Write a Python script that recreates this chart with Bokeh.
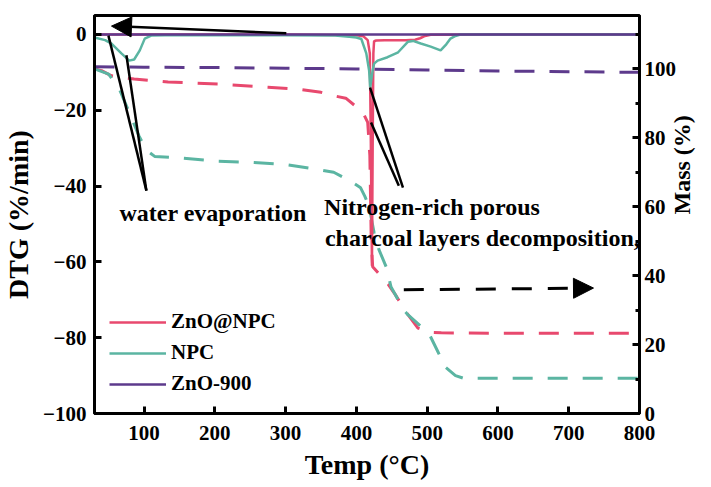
import math
from bokeh.plotting import figure
from bokeh.models import (Range1d, LinearAxis, SingleIntervalTicker, Label, Arrow,
                          NormalHead, Legend, LegendItem)
from bokeh.embed import file_html
from bokeh.resources import INLINE

FONT = "Liberation Serif"

# ---------------- data ----------------
# DTG (left axis, solid lines)
znonpc_dtg_t = [30, 100, 200, 300, 400, 410, 416, 419, 420.5, 422, 423, 424, 425, 428,
                440, 455, 470, 483, 490, 497, 505, 600, 700, 800]
znonpc_dtg = [0, 0, 0, 0, -0.2, -0.5, -1.5, -5, -30, -61, -30, -5, -1.8, -1.6,
              -1.5, -1.5, -1.5, -1.4, -1.0, -0.4, -0.1, 0, 0, 0]

npc_dtg_t = [30, 45, 54, 68, 79, 86, 94, 101, 110, 130, 200, 300, 370, 390, 400, 407,
             414, 418, 419.5, 423, 425, 430, 444, 459, 473, 480, 491, 505, 519, 527,
             533, 540, 547, 600, 700, 800]
npc_dtg = [-0.8, -1.5, -2.4, -5.0, -6.9, -6.6, -4.2, -1.1, -0.3, -0.2, -0.2, -0.2, -0.3,
           -0.6, -0.8, -1.2, -5.0, -9.5, -14, -9.5, -7.7, -6.9, -6.0, -4.7, -1.9, -1.7,
           -2.4, -3.2, -4.2, -2.6, -1.1, -0.4, 0, 0, 0, 0]

zno_dtg_t = [30, 200, 400, 600, 800]
zno_dtg = [0, 0, 0, 0, 0]

# Mass (right axis, dashed lines)
znonpc_mass_t = [30, 40, 54, 70, 86, 134, 205, 275, 322, 350, 368, 385, 397, 402, 410,
                 416, 419, 421, 423, 437, 445, 455, 470, 487, 505, 520, 600, 700, 800]
znonpc_mass = [100, 99.5, 98, 97.5, 97.1, 96.2, 95.6, 94.7, 94.0, 93.2, 92.2, 91.5, 89.5,
               88.8, 87, 84.5, 75, 50, 42.6, 39.4, 37.5, 34.5, 29.5, 24.8, 23.5, 23.4,
               23.3, 23.3, 23.3]

npc_mass_t = [30, 50, 65, 79, 93, 103, 115, 143, 205, 251, 298, 346, 368, 392, 406, 412,
              418, 425, 432, 442, 449, 467, 473, 490, 501, 505, 515, 526, 540, 552, 600,
              700, 800]
npc_mass = [100, 98.5, 94.2, 87.4, 80.5, 76.5, 74.6, 74.3, 73.2, 72.9, 72.3, 70.8, 70.0,
            67.4, 65.5, 63, 60, 52.5, 47.5, 42.6, 36.7, 30, 28.6, 25.5, 23.6, 22.2, 18,
            13.4, 11, 10.2, 10.2, 10.2, 10.2]

zno_mass_t = [30, 100, 200, 300, 400, 500, 600, 700, 800]
zno_mass = [100.6, 100.5, 100.4, 100.2, 100.0, 99.7, 99.4, 99.2, 99.0]

series_names = ["ZnO@NPC", "NPC", "ZnO-900"]
colors = ["#E8496E", "#5BB5A2", "#5D3A8C"]

x_ticks_interval = 100
left_interval = 20
right_interval = 20

# ---------------- figure ----------------
p = figure(width=711, height=487, x_range=Range1d(30, 800), y_range=Range1d(-100, 5),
           output_backend="svg", toolbar_location=None,
           min_border_left=93, min_border_right=71, min_border_top=15, min_border_bottom=74)
p.extra_y_ranges = {"mass": Range1d(0, 115.5)}
p.xgrid.visible = False
p.ygrid.visible = False
p.outline_line_color = "black"
p.outline_line_width = 3
p.background_fill_color = "white"
p.border_fill_color = "white"

right = LinearAxis(y_range_name="mass")
p.add_layout(right, "right")

p.xaxis.ticker = SingleIntervalTicker(interval=x_ticks_interval, num_minor_ticks=0)
p.yaxis[0].ticker = SingleIntervalTicker(interval=left_interval, num_minor_ticks=0)
right.ticker = SingleIntervalTicker(interval=right_interval, num_minor_ticks=2)

p.xaxis.axis_label = "Temp (\u00b0C)"
p.yaxis[0].axis_label = "DTG (%/min)"
right.axis_label = "Mass (%)"

for ax in [p.xaxis[0], p.yaxis[0], right]:
    ax.axis_line_width = 3
    ax.axis_line_color = "black"
    ax.major_tick_line_width = 3
    ax.major_tick_line_color = "black"
    ax.minor_tick_line_width = 3
    ax.minor_tick_line_color = "black"
    ax.major_tick_in = 7
    ax.major_tick_out = 0
    ax.minor_tick_in = 4
    ax.minor_tick_out = 0
    ax.major_label_text_font = FONT
    ax.major_label_text_font_style = "bold"
    ax.major_label_text_font_size = "21px"
    ax.major_label_text_color = "black"
    ax.axis_label_text_font = FONT
    ax.axis_label_text_font_style = "bold"
    ax.axis_label_text_font_size = "28px"
    ax.axis_label_text_color = "black"

p.xaxis.major_label_standoff = 12
p.xaxis.axis_label_standoff = 6
p.yaxis[0].major_label_standoff = 8
p.yaxis[0].axis_label_standoff = 6
right.major_label_standoff = 5
right.axis_label_standoff = 3
right.axis_label_text_font_size = "24px"
try:
    right.axis_label_orientation = math.pi / 2
except Exception:
    pass

# mass (dashed) curves
p.line(znonpc_mass_t, znonpc_mass, y_range_name="mass", line_color=colors[0],
       line_width=3, line_dash="20 15")
p.line(npc_mass_t, npc_mass, y_range_name="mass", line_color=colors[1],
       line_width=3, line_dash="20 15")
p.line(zno_mass_t, zno_mass, y_range_name="mass", line_color=colors[2],
       line_width=3, line_dash="20 15")

# DTG (solid) curves
r1 = p.line(znonpc_dtg_t, znonpc_dtg, line_color=colors[0], line_width=2.5)
r2 = p.line(npc_dtg_t, npc_dtg, line_color=colors[1], line_width=2.5)
r3 = p.line(zno_dtg_t, zno_dtg, line_color=colors[2], line_width=2.5)

legend = Legend(items=[LegendItem(label=series_names[0], renderers=[r1]),
                       LegendItem(label=series_names[1], renderers=[r2]),
                       LegendItem(label=series_names[2], renderers=[r3])],
                location=(15, 17), padding=0, margin=0, spacing=6,
                glyph_width=57, glyph_height=20, label_height=20, label_standoff=5,
                border_line_color=None, background_fill_alpha=0,
                label_text_font=FONT, label_text_font_style="bold",
                label_text_font_size="21px", label_text_color="black")
p.add_layout(legend, "center")

# ---------------- annotations ----------------
p.add_layout(Arrow(x_start=301, y_start=0.3, x_end=54, y_end=2.2, line_width=2.5,
                   line_color="black",
                   end=NormalHead(size=20, fill_color="black", line_color="black")))

p.add_layout(Arrow(x_start=467, y_start=35.9, x_end=735, y_end=36.4, y_range_name="mass",
                   line_width=3, line_color="black", line_dash="20 16",
                   end=NormalHead(size=20, fill_color="black", line_color="black")))

for xs, ys, xe, ye in [(103.3, -41.2, 49.7, -0.3), (103.3, -41.2, 75.1, -5.5),
                       (465.8, -40.4, 419.3, -14.0), (460.0, -39.9, 420.7, -23.2)]:
    p.add_layout(Arrow(x_start=xs, y_start=ys, x_end=xe, y_end=ye, end=None,
                       line_width=2.5, line_color="black"))

for txt, x, y in [("water evaporation", 65.3, -47.2),
                  ("Nitrogen-rich porous", 354.4, -45.6),
                  ("charcoal layers decomposition,", 355.5, -53.8)]:
    p.add_layout(Label(x=x, y=y, text=txt, text_font=FONT, text_font_style="bold",
                       text_font_size="24px", text_color="black",
                       text_baseline="alphabetic", text_align="left"))

open("out.html", "w").write(file_html(p, INLINE))
